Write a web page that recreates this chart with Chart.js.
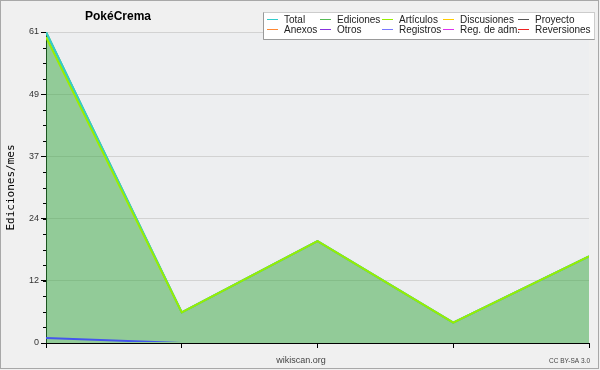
<!DOCTYPE html>
<html>
<head>
<meta charset="utf-8">
<script src="https://cdn.jsdelivr.net/npm/chart.js@4.4.0/dist/chart.umd.min.js"></script>
<style>
  html, body { margin: 0; padding: 0; background: #f0f0f0; }
  #wrap { width: 600px; height: 370px; position: relative; }
</style>
</head>
<body>
<div id="wrap"><canvas id="chart" width="600" height="370"></canvas></div>
<script>
// datos
const months = ['1', '2', '3', '4', '5'];
const total = [61, 6, 20, 4, 17];
const ediciones = [61, 6, 20, 4, 17];
const articulos = [60, 6, 20, 4, 17];
const discusiones = [0, 0, 0, 0, 0];
const proyecto = [0, 0, 0, 0, 0];
const anexos = [0, 0, 0, 0, 0];
const otros = [0, 0, 0, 0, 0];
const registros = [1, 0, 0, 0, 0];
const regAdm = [0, 0, 0, 0, 0];
const reversiones = [0, 0, 0, 0, 0];
const yTicks = [0, 12.2, 24.4, 36.6, 48.8, 61];
const yTickLabels = ['0', '12', '24', '37', '49', '61'];
const seriesNames = ['Total', 'Ediciones', 'Artículos', 'Discusiones', 'Proyecto',
                     'Anexos', 'Otros', 'Registros', 'Reg. de adm.', 'Reversiones'];

// colores
const cTotal = '#33cccc';
const cEdic = '#55bb55';
const cArt = '#99ee00';
const cDisc = '#ffcc00';
const cProy = '#555555';
const cAnex = '#ff8833';
const cOtros = '#8833dd';
const cReg = '#4455ee';
const cRegAdm = '#dd33ee';
const cRev = '#ee2222';

const fontSans = '"Liberation Sans", Arial, sans-serif';

// las lineas en cero quedan bajo el eje
const clipAxis = { left: 0, top: 0, right: 0, bottom: -1 };

function ds(label, data, color, order, extra) {
    return Object.assign({
        label: label,
        data: data,
        borderColor: color,
        backgroundColor: color,
        borderWidth: 2,
        pointRadius: 0,
        tension: 0,
        fill: false,
        order: order,
        clip: clipAxis
    }, extra || {});
}

// fondo, titulo, leyenda y textos
const decor = {
    id: 'decor',
    beforeDraw(chart) {
        const ctx = chart.ctx;
        const a = chart.chartArea;
        ctx.save();
        ctx.fillStyle = '#f0f0f0';
        ctx.fillRect(0, 0, chart.width, chart.height);
        ctx.fillStyle = '#edeef0';
        ctx.fillRect(a.left, a.top, a.right - a.left, a.bottom - a.top);
        ctx.restore();
    },
    afterDraw(chart) {
        const ctx = chart.ctx;
        const y = chart.scales.y;
        const a = chart.chartArea;
        ctx.save();
        // ticks menores
        ctx.strokeStyle = '#000';
        ctx.lineWidth = 1;
        const top = yTicks[yTicks.length - 1];
        for (let i = 0; i <= 20; i++) {
            const py = Math.round(y.getPixelForValue(top * i / 20)) + 0.5;
            ctx.beginPath();
            ctx.moveTo(a.left - 3, py);
            ctx.lineTo(a.left, py);
            ctx.stroke();
        }
        // titulo
        ctx.fillStyle = '#000';
        ctx.font = 'bold 12px ' + fontSans;
        ctx.textBaseline = 'middle';
        ctx.textAlign = 'left';
        ctx.fillText('PokéCrema', 85, 17);
        // pie
        ctx.fillStyle = '#444';
        ctx.font = '9px ' + fontSans;
        ctx.textAlign = 'center';
        ctx.fillText('wikiscan.org', 301, 361);
        ctx.font = '6.5px ' + fontSans;
        ctx.textAlign = 'right';
        ctx.fillText('CC BY-SA 3.0', 590, 361);
        // leyenda
        ctx.fillStyle = '#ffffff';
        ctx.fillRect(263, 12, 332, 28);
        ctx.strokeStyle = '#cccccc';
        ctx.strokeRect(263.5, 12.5, 331, 27);
        ctx.strokeStyle = '#999999';
        ctx.beginPath();
        ctx.moveTo(263.5, 12.5); ctx.lineTo(263.5, 39.5); ctx.lineTo(594.5, 39.5);
        ctx.stroke();
        const colX = [267, 320, 382, 443, 518];
        const rowY = [19, 29];
        ctx.font = '10px ' + fontSans;
        ctx.textAlign = 'left';
        chart.data.datasets.forEach(function(d) {
            const idx = seriesNames.indexOf(d.label);
            const cx = colX[idx % 5];
            const cy = rowY[Math.floor(idx / 5)];
            ctx.strokeStyle = d.legendColor || d.borderColor;
            ctx.beginPath();
            ctx.moveTo(cx, cy + 0.5);
            ctx.lineTo(cx + 11, cy + 0.5);
            ctx.stroke();
            ctx.fillStyle = '#222';
            ctx.fillText(d.label, cx + 17, cy + 1);
        });
        // marco
        ctx.strokeStyle = '#a8a8a8';
        ctx.strokeRect(0.5, 0.5, 598, 368);
        ctx.restore();
    }
};

document.addEventListener('DOMContentLoaded', function() {
    const ctx = document.getElementById('chart').getContext('2d');
    new Chart(ctx, {
        type: 'line',
        data: {
            labels: months,
            datasets: [
                ds(seriesNames[0], total, cTotal, 2),
                ds(seriesNames[1], ediciones, cEdic, 3, {
                    fill: 'origin',
                    backgroundColor: 'rgba(56,167,64,0.5)',
                    clip: 0
                }),
                ds(seriesNames[2], articulos, cArt, 1),
                ds(seriesNames[3], discusiones, cDisc, 4),
                ds(seriesNames[4], proyecto, cProy, 4),
                ds(seriesNames[5], anexos, cAnex, 4),
                ds(seriesNames[6], otros, cOtros, 4),
                ds(seriesNames[7], registros, cReg, 0, { legendColor: '#7777ff' }),
                ds(seriesNames[8], regAdm, cRegAdm, 4),
                ds(seriesNames[9], reversiones, cRev, 4)
            ]
        },
        options: {
            responsive: false,
            animation: false,
            layout: { padding: { top: 32, right: 11, left: 0, bottom: 0 } },
            scales: {
                x: {
                    z: 1,
                    offset: false,
                    grid: { display: true, drawOnChartArea: false, drawTicks: true,
                            tickLength: 5, tickColor: '#000' },
                    border: { display: true, color: '#000', width: 1 },
                    ticks: { display: false },
                    afterFit: function(s) { s.height = 27; }
                },
                y: {
                    min: 0,
                    max: 61,
                    afterBuildTicks: function(s) {
                        s.ticks = yTicks.map(function(v) { return { value: v }; });
                    },
                    ticks: {
                        autoSkip: false,
                        padding: 2,
                        color: '#333',
                        font: { family: fontSans, size: 9 },
                        callback: function(v, i) { return yTickLabels[i]; }
                    },
                    grid: { color: '#d2d2d2', drawTicks: true, tickLength: 5, tickColor: '#000' },
                    border: { display: true, color: '#000', width: 1 },
                    title: {
                        display: true,
                        text: 'Ediciones/mes',
                        color: '#000',
                        font: { family: 'DejaVu Sans Mono', size: 11 },
                        padding: { top: 5, bottom: 0 }
                    },
                    afterFit: function(s) { s.width = 46; }
                }
            },
            plugins: {
                legend: { display: false },
                tooltip: { enabled: false }
            }
        },
        plugins: [decor]
    });
});
</script>
</body>
</html>
